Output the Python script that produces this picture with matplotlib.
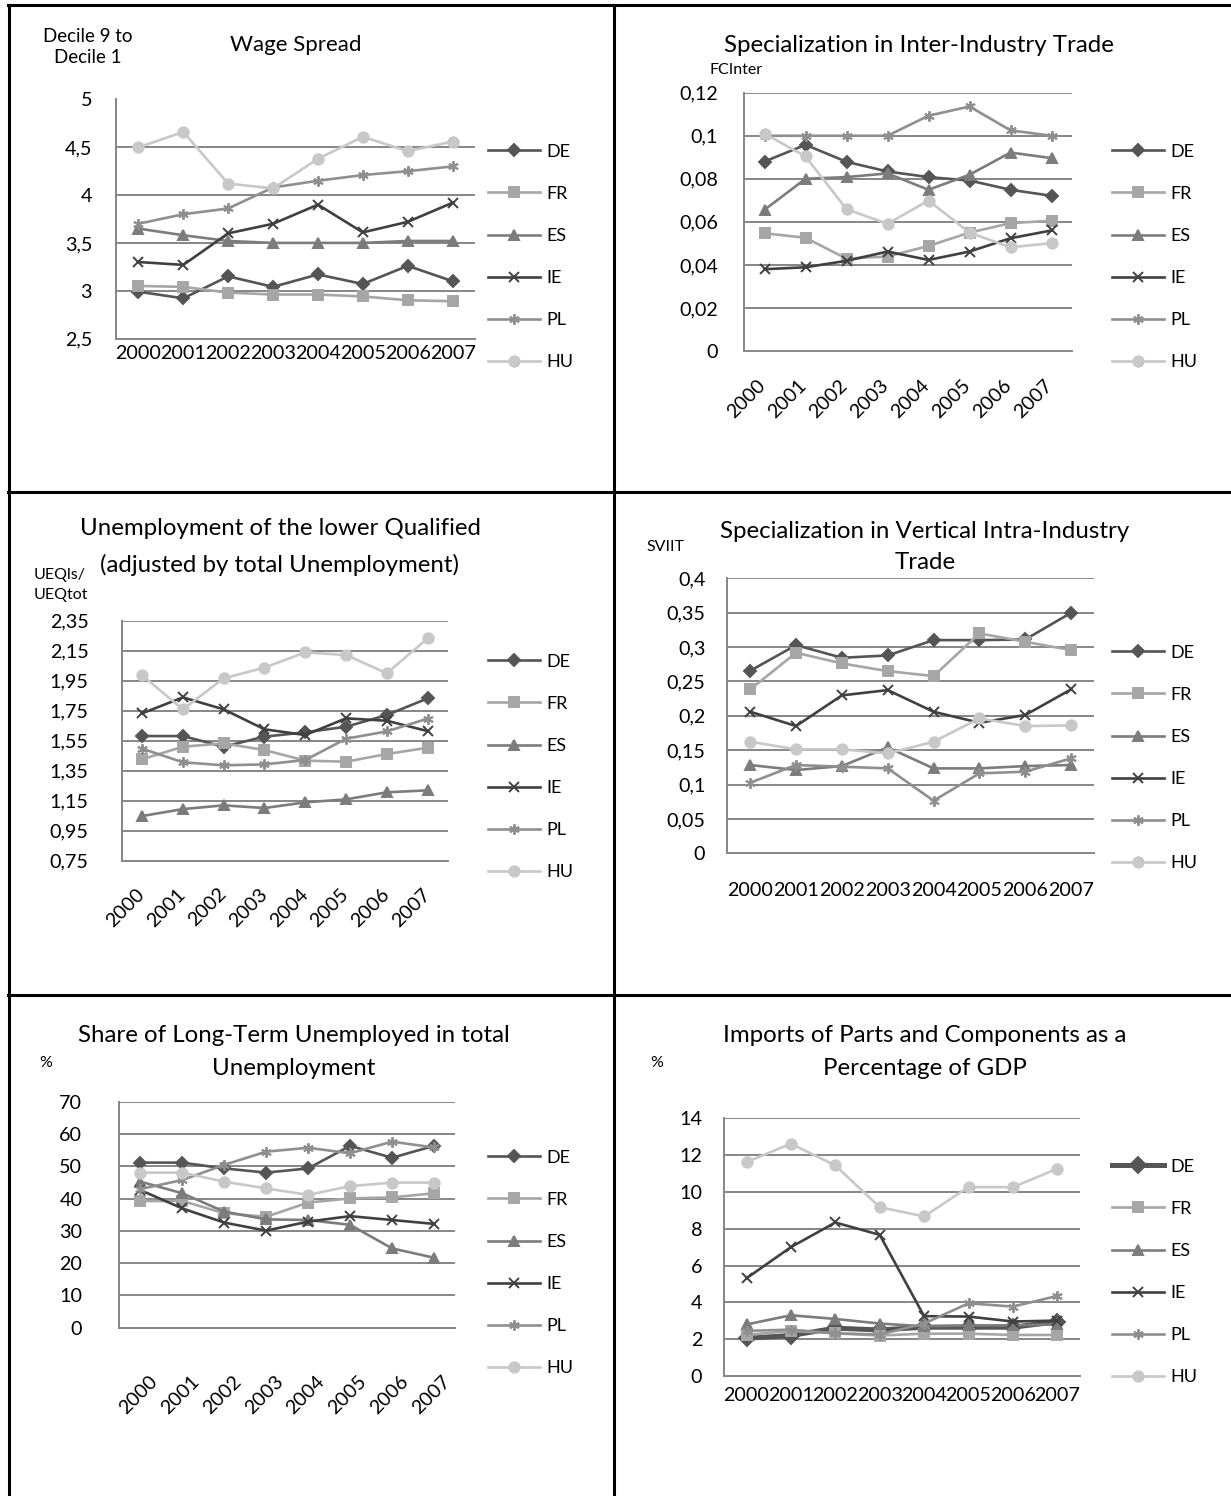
import matplotlib
matplotlib.use('Agg')
import matplotlib.pyplot as plt
import matplotlib.transforms as mtransforms
from matplotlib.lines import Line2D

W, H = 1231, 1496

years = ['2000', '2001', '2002', '2003', '2004', '2005', '2006', '2007']
countries = ['DE', 'FR', 'ES', 'IE', 'PL', 'HU']

# Wage spread (decile 9 / decile 1)
wage_spread = {
    'DE': [2.99, 2.92, 3.15, 3.04, 3.17, 3.07, 3.26, 3.10],
    'FR': [3.05, 3.04, 2.98, 2.96, 2.96, 2.94, 2.90, 2.89],
    'ES': [3.65, 3.58, 3.52, 3.50, 3.50, 3.50, 3.52, 3.52],
    'IE': [3.30, 3.27, 3.60, 3.70, 3.90, 3.61, 3.72, 3.92],
    'PL': [3.70, 3.80, 3.86, 4.08, 4.15, 4.21, 4.25, 4.30],
    'HU': [4.50, 4.66, 4.12, 4.07, 4.38, 4.61, 4.46, 4.56],
}
wage_ticks = [2.5, 3, 3.5, 4, 4.5, 5]
wage_labels = ['2,5', '3', '3,5', '4', '4,5', '5']

# Specialization in inter-industry trade
inter_trade = {
    'DE': [0.088, 0.0958, 0.0879, 0.0834, 0.0808, 0.0792, 0.0749, 0.0721],
    'FR': [0.0547, 0.0526, 0.0429, 0.0439, 0.0488, 0.0550, 0.0594, 0.0605],
    'ES': [0.0656, 0.0800, 0.0808, 0.0825, 0.0749, 0.0819, 0.0922, 0.0896],
    'IE': [0.0380, 0.0389, 0.0419, 0.0462, 0.0423, 0.0462, 0.0524, 0.0560],
    'PL': [0.1000, 0.1000, 0.1000, 0.1000, 0.1093, 0.1136, 0.1025, 0.1000],
    'HU': [0.1010, 0.0904, 0.0659, 0.0591, 0.0699, 0.0550, 0.0482, 0.0501],
}
inter_ticks = [0, 0.02, 0.04, 0.06, 0.08, 0.1, 0.12]
inter_labels = ['0', '0,02', '0,04', '0,06', '0,08', '0,1', '0,12']

# Unemployment of the lower qualified
unemp_low = {
    'DE': [1.581, 1.581, 1.510, 1.577, 1.606, 1.643, 1.721, 1.832],
    'FR': [1.426, 1.510, 1.532, 1.488, 1.417, 1.410, 1.461, 1.503],
    'ES': [1.048, 1.094, 1.119, 1.101, 1.139, 1.159, 1.206, 1.219],
    'IE': [1.732, 1.839, 1.759, 1.626, 1.588, 1.699, 1.683, 1.614],
    'PL': [1.497, 1.406, 1.386, 1.392, 1.421, 1.563, 1.612, 1.697],
    'HU': [1.986, 1.759, 1.966, 2.037, 2.139, 2.121, 2.000, 2.232],
}
unemp_ticks = [0.75, 0.95, 1.15, 1.35, 1.55, 1.75, 1.95, 2.15, 2.35]
unemp_labels = ['0,75', '0,95', '1,15', '1,35', '1,55', '1,75', '1,95', '2,15', '2,35']

# Specialization in vertical intra-industry trade
sviit = {
    'DE': [0.2655, 0.3028, 0.2844, 0.2878, 0.3101, 0.3101, 0.3110, 0.3498],
    'FR': [0.2384, 0.2917, 0.2762, 0.2650, 0.2578, 0.3198, 0.3077, 0.2955],
    'ES': [0.1284, 0.1211, 0.1269, 0.1541, 0.1235, 0.1235, 0.1269, 0.1284],
    'IE': [0.2059, 0.1851, 0.2297, 0.2374, 0.2059, 0.1899, 0.2011, 0.2384],
    'PL': [0.1027, 0.1284, 0.1260, 0.1235, 0.0765, 0.1163, 0.1187, 0.1381],
    'HU': [0.1623, 0.1512, 0.1512, 0.1453, 0.1623, 0.1962, 0.1851, 0.1860],
}
sviit_ticks = [0, 0.05, 0.1, 0.15, 0.2, 0.25, 0.3, 0.35, 0.4]
sviit_labels = ['0', '0,05', '0,1', '0,15', '0,2', '0,25', '0,3', '0,35', '0,4']

# Share of long-term unemployed (%)
long_term = {
    'DE': [51.2, 51.2, 49.4, 48.1, 49.4, 56.4, 52.7, 56.4],
    'FR': [39.3, 39.3, 35.5, 34.4, 38.8, 40.1, 40.4, 41.7],
    'ES': [45.3, 41.7, 36.0, 33.6, 33.4, 31.9, 24.6, 21.7],
    'IE': [42.7, 37.0, 32.6, 30.1, 32.9, 34.6, 33.4, 32.2],
    'PL': [43.0, 45.8, 50.5, 54.6, 55.8, 54.1, 57.7, 55.9],
    'HU': [48.1, 48.1, 45.3, 43.2, 41.2, 43.9, 45.0, 45.0],
}
long_ticks = [0, 10, 20, 30, 40, 50, 60, 70]
long_labels = ['0', '10', '20', '30', '40', '50', '60', '70']

# Imports of parts and components (% of GDP)
imports_pc = {
    'DE': [2.05, 2.20, 2.60, 2.50, 2.65, 2.65, 2.65, 2.95],
    'FR': [2.23, 2.45, 2.32, 2.20, 2.30, 2.30, 2.23, 2.23],
    'ES': [2.80, 3.30, 3.10, 2.85, 2.70, 2.75, 2.75, 2.80],
    'IE': [5.31, 7.00, 8.34, 7.67, 3.25, 3.23, 2.96, 3.01],
    'PL': [2.45, 2.52, 2.32, 2.25, 2.85, 3.95, 3.77, 4.35],
    'HU': [11.62, 12.62, 11.44, 9.17, 8.67, 10.26, 10.26, 11.26],
}
imp_ticks = [0, 2, 4, 6, 8, 10, 12, 14]
imp_labels = ['0', '2', '4', '6', '8', '10', '12', '14']

colors = {'DE': '#555555', 'FR': '#a6a6a6', 'ES': '#7c7c7c',
          'IE': '#404040', 'PL': '#8f8f8f', 'HU': '#c8c8c8'}
markers = {'DE': 'D', 'FR': 's', 'ES': '^', 'IE': 'x', 'PL': (6, 2, 0), 'HU': 'o'}
msizes = {'DE': 6, 'FR': 6.5, 'ES': 7, 'IE': 7, 'PL': 7.5, 'HU': 7.5}

plt.rcParams['font.family'] = ['Lato', 'DejaVu Sans']
TICK_FS = 14.2
LEG_FS = 13
TFS = 17.3
CAP_FS = 11.5

fig = plt.figure(figsize=(W / 100, H / 100), dpi=100)


def fx(x):
    return x / W


def fy(y):
    return 1 - y / H


def draw_chart(box, data, ticks, labels, rotate, xpad, ypad_px, legend_x, legend_y,
               xshift=(0, 0), thick_de=False):
    l, t, r, b = box
    ax = fig.add_axes([fx(l), fy(b), (r - l) / W, (b - t) / H])
    xs = list(range(len(years)))
    handles = []
    for c in countries:
        lw = 1.9
        ms = msizes[c]
        if thick_de and c == 'DE':
            lw = 3.6
            ms = 8.5
        line, = ax.plot(xs, data[c], color=colors[c], lw=lw, marker=markers[c],
                        ms=ms, mec=colors[c], mfc=colors[c], mew=1.4, label=c,
                        zorder=3)
        handles.append(line)
    ax.set_xlim(-0.5, len(years) - 0.5)
    ax.set_ylim(ticks[0], ticks[-1])
    ax.set_yticks(ticks)
    ax.set_yticklabels(labels, fontsize=TICK_FS)
    ax.set_xticks(xs)
    ax.tick_params(axis='both', length=0)
    ax.tick_params(axis='x', pad=xpad)
    ax.tick_params(axis='y', pad=ypad_px * 0.72)
    if rotate:
        ax.set_xticklabels(years, fontsize=TICK_FS, rotation=45, ha='right', va='center',
                           rotation_mode='anchor')
        # shift after tick_params, which resets the label transforms
        off = mtransforms.ScaledTranslation(xshift[0] / 100, -xshift[1] / 100,
                                            fig.dpi_scale_trans)
        for lab in ax.get_xticklabels():
            lab.set_transform(lab.get_transform() + off)
    else:
        ax.set_xticklabels(years, fontsize=TICK_FS)
    for tk in ticks[1:]:
        ax.axhline(tk, color='#868686', lw=1.4, zorder=1)
    for s in ['top', 'right']:
        ax.spines[s].set_visible(False)
    for s in ['left', 'bottom']:
        ax.spines[s].set_color('#868686')
        ax.spines[s].set_linewidth(1.4)
    ax.set_facecolor('none')
    ax.legend(handles=handles, loc='center left',
              bbox_to_anchor=(fx(legend_x), fy(legend_y)), bbox_transform=fig.transFigure,
              frameon=False, fontsize=LEG_FS, numpoints=1, handlelength=2.9,
              handletextpad=0.35, labelspacing=1.45, borderpad=0, borderaxespad=0)
    return ax


draw_chart((116, 99.5, 475, 338.5), wage_spread, wage_ticks, wage_labels,
           False, 5, 24, 488, 257)
draw_chart((744, 92.7, 1072, 351), inter_trade, inter_ticks, inter_labels,
           True, 23, 26, 1112, 257, xshift=(-2, 0))
draw_chart((121.7, 620.7, 448, 860.7), unemp_low, unemp_ticks, unemp_labels,
           True, 22, 33, 488, 767)
draw_chart((727.3, 578.3, 1094, 853.3), sviit, sviit_ticks, sviit_labels,
           False, 21, 22, 1112, 758)
draw_chart((119.3, 1102, 455, 1327.7), long_term, long_ticks, long_labels,
           True, 30, 37, 488, 1263, xshift=(14, 9))
draw_chart((724.3, 1118.3, 1079.5, 1376), imports_pc, imp_ticks, imp_labels,
           False, 8, 22, 1112, 1272, thick_de=True)

# titles and axis captions
fig.text(fx(296), fy(45), 'Wage Spread', fontsize=16, ha='center', va='center')
fig.text(fx(88), fy(47), 'Decile 9 to\nDecile 1', fontsize=13.5, ha='center', va='center',
         linespacing=1.35)
fig.text(fx(919), fy(45), 'Specialization in Inter-Industry Trade', fontsize=TFS,
         ha='center', va='center')
fig.text(fx(736), fy(70), 'FCInter', fontsize=CAP_FS, ha='center', va='center')
fig.text(fx(280), fy(547), 'Unemployment of the lower Qualified\n(adjusted by total Unemployment)',
         fontsize=TFS, ha='center', va='center', linespacing=1.85)
fig.text(fx(34), fy(585), 'UEQls/\nUEQtot', fontsize=CAP_FS, ha='left', va='center',
         linespacing=1.55)
fig.text(fx(925), fy(547), 'Specialization in Vertical Intra-Industry\nTrade', fontsize=TFS,
         ha='center', va='center', linespacing=1.6)
fig.text(fx(665), fy(547), 'SVIIT', fontsize=CAP_FS, ha='center', va='center')
fig.text(fx(294), fy(1052), 'Share of Long-Term Unemployed in total\nUnemployment', fontsize=TFS,
         ha='center', va='center', linespacing=1.65)
fig.text(fx(46), fy(1063), '%', fontsize=CAP_FS, ha='center', va='center')
fig.text(fx(925), fy(1052), 'Imports of Parts and Components as a\nPercentage of GDP', fontsize=TFS,
         ha='center', va='center', linespacing=1.65)
fig.text(fx(657), fy(1063), '%', fontsize=CAP_FS, ha='center', va='center')


# table border lines
def hline(y, x0, x1):
    fig.add_artist(Line2D([fx(x0), fx(x1)], [fy(y), fy(y)], color='black', lw=2.2,
                          transform=fig.transFigure))


def vline(x, y0, y1):
    fig.add_artist(Line2D([fx(x), fx(x)], [fy(y0), fy(y1)], color='black', lw=2.2,
                          transform=fig.transFigure))


hline(5, 8, 1231)
hline(492, 8, 1231)
hline(995, 8, 1231)
vline(9, 5, 1496)
vline(614, 5, 1496)

fig.savefig('out.png', dpi=100)
